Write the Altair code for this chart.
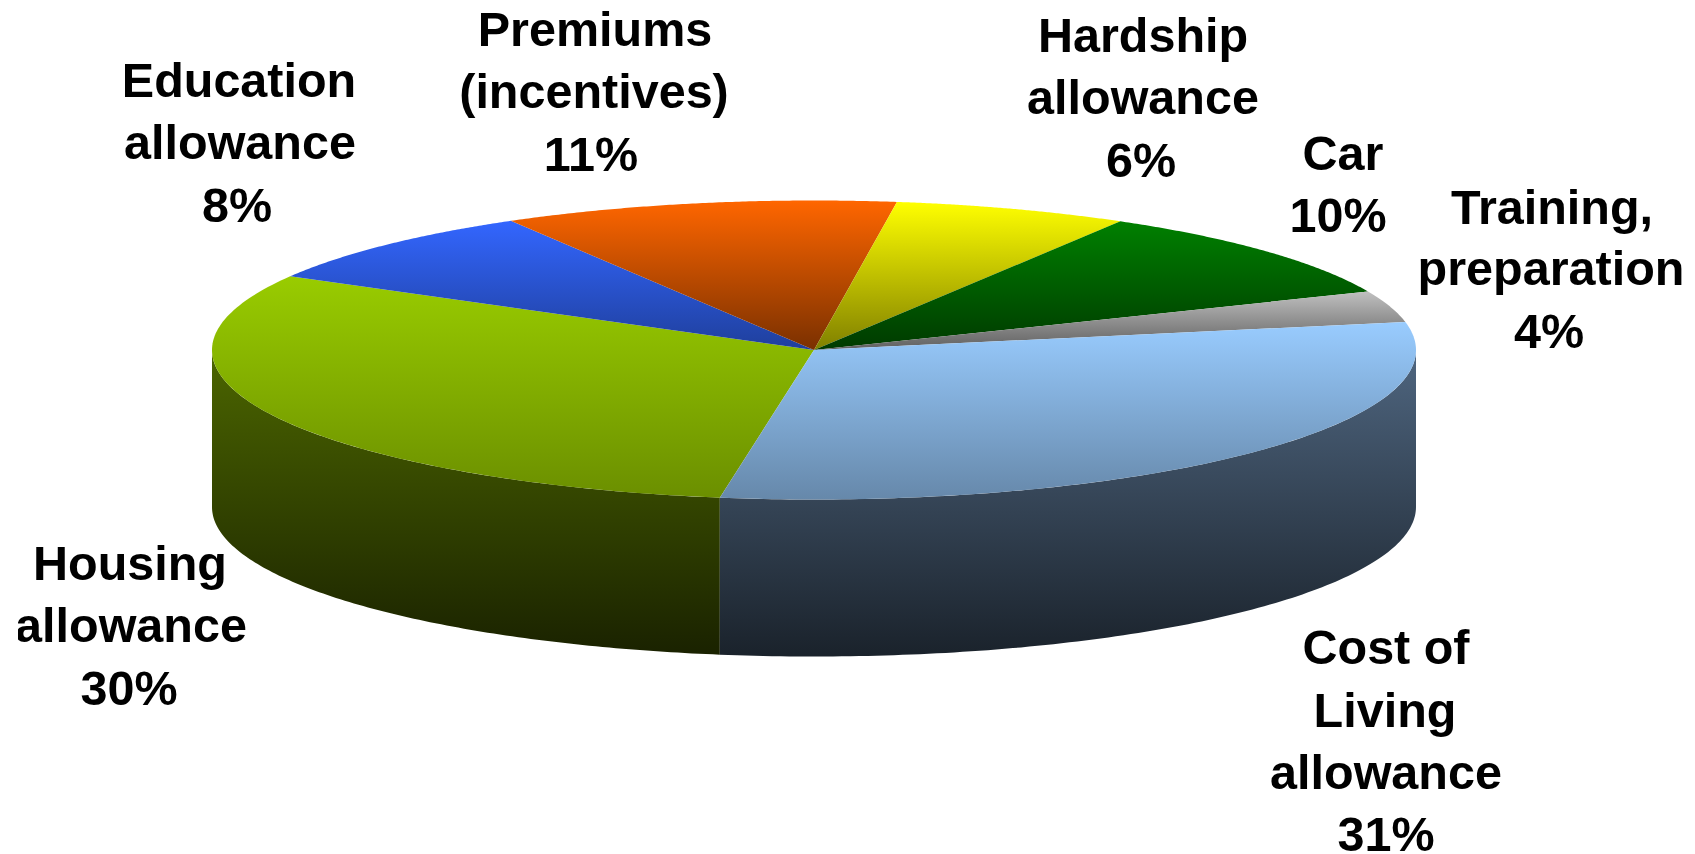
import numpy as np
import pandas as pd
import altair as alt

categories = ["Housing allowance", "Education allowance", "Premiums (incentives)",
              "Hardship allowance", "Car", "Training, preparation", "Cost of Living allowance"]
# slice sizes (the printed labels are rounded)
values = [30.7, 8.4, 10.6, 6.3, 10.1, 3.4, 30.5]
top_light = ["#99cc00", "#3366ff", "#ff6600", "#ffff00", "#008000", "#c0c0c0", "#99ccff"]
top_dark = ["#6b8f00", "#1f3f9c", "#7a3000", "#808000", "#003a00", "#5f5f5f", "#6688aa"]
wall_light = {"Housing allowance": "#4c6600", "Cost of Living allowance": "#4f6680"}
wall_dark = {"Housing allowance": "#1a2200", "Cost of Living allowance": "#1a222b"}

label_lines = ["Education", "allowance", "8%",
               "Premiums", "(incentives)", "11%",
               "Hardship", "allowance", "6%",
               "Car", "10%",
               "Training,", "preparation", "4%",
               "Cost of", "Living", "allowance", "31%",
               "Housing", "allowance", "30%"]
label_x = [239, 240, 237,
           595, 594, 591,
           1143, 1143, 1141,
           1343, 1338,
           1552, 1551, 1549,
           1386, 1385, 1386, 1386,
           130, 131, 129]
label_y = [97, 159, 222,
           46, 108, 171,
           52, 114, 177,
           170, 232,
           224, 285, 348,
           664, 727, 789, 851,
           580, 642, 705]

# Layout of the tilted disc, in page pixels
CX, CY, RX, RY, DEPTH, START = 814, 350, 602, 149.5, 157, 9
W, H = 1679, 846
x_scale = alt.Scale(domain=[8, 8 + W], nice=False, zero=False)
y_scale = alt.Scale(domain=[8 + H, 8], nice=False, zero=False)


def ex(t):
    return CX - RX * np.sin(np.radians(t))


def ey(t):
    return CY + RY * np.cos(np.radians(t))


def shape(xs, ys, light, dark):
    df = pd.DataFrame({"x": xs, "y": ys, "i": np.arange(len(xs))})
    grad = alt.Gradient(gradient="linear", x1=0, x2=0, y1=0, y2=1,
                        stops=[alt.GradientStop(color=light, offset=0),
                               alt.GradientStop(color=dark, offset=1)])
    return alt.Chart(df).mark_line(fill=grad, strokeWidth=0, interpolate="linear-closed", clip=False).encode(
        x=alt.X("x:Q", scale=x_scale, axis=None),
        y=alt.Y("y:Q", scale=y_scale, axis=None),
        order=alt.Order("i:Q"),
    )


edges = START + np.concatenate([[0], np.cumsum(values)]) * 3.6
layers = []
# side walls: only the part of each slice facing the viewer
for k, name in enumerate(categories):
    t0, t1 = edges[k], edges[k + 1]
    for lo, hi in [(-90, 90), (270, 450)]:
        a, b = max(t0, lo), min(t1, hi)
        if a < b and name in wall_light:
            ts = np.linspace(a, b, 120)
            xs = np.concatenate([ex(ts), ex(ts[::-1])])
            ys = np.concatenate([ey(ts), ey(ts[::-1]) + DEPTH])
            layers.append(shape(xs, ys, wall_light[name], wall_dark[name]))
# top faces
for k, name in enumerate(categories):
    ts = np.linspace(edges[k], edges[k + 1], 120)
    xs = np.concatenate([[CX], ex(ts)])
    ys = np.concatenate([[CY], ey(ts)])
    layers.append(shape(xs, ys, top_light[k], top_dark[k]))

labels = pd.DataFrame({"t": label_lines, "x": label_x, "y": label_y})
text = alt.Chart(labels).mark_text(
    font="Liberation Sans", fontWeight="bold", fontSize=48.5, color="#000000",
    align="center", baseline="alphabetic"
).encode(x=alt.X("x:Q", scale=x_scale, axis=None), y=alt.Y("y:Q", scale=y_scale, axis=None), text="t:N")
layers.append(text)

# the reference crops its left edge through the housing label
mask = alt.Chart(pd.DataFrame({"a": [0]})).mark_rect(color="#ffffff").encode(
    x=alt.value(-8), x2=alt.value(10), y=alt.value(600), y2=alt.value(660))
layers.append(mask)

chart = alt.layer(*layers).properties(
    width=W, height=H, padding=0, autosize=alt.AutoSizeParams(type="none"), background="#ffffff"
).configure_view(stroke=None)

chart.save("out.html", embed_options={"renderer": "svg", "actions": False})
